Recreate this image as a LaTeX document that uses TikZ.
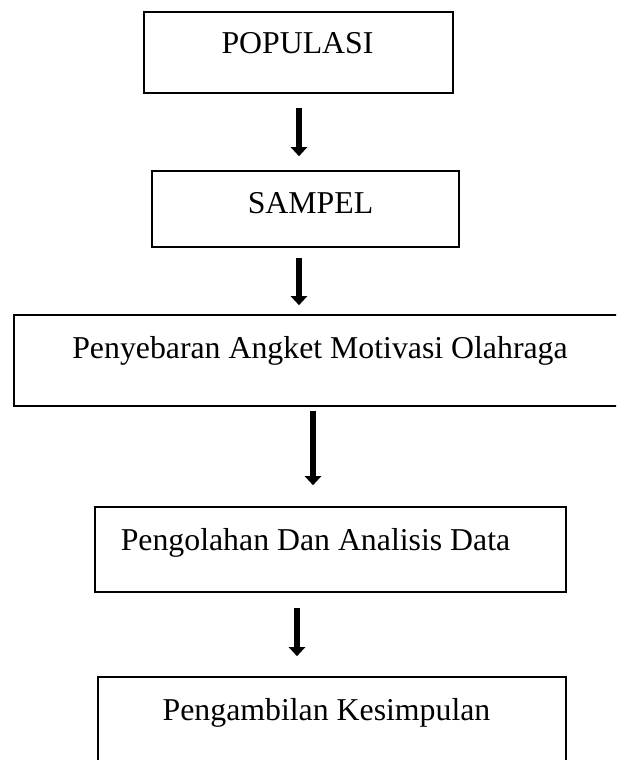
\documentclass[tikz,border=0pt]{standalone}
\usepackage{fontspec}
\setmainfont{Liberation Serif}
\usetikzlibrary{arrows.meta}
\begin{document}
\begin{tikzpicture}[x=1pt,y=-1pt,
  box/.style={draw=black, line width=1.6pt, inner sep=0pt},
  lbl/.style={anchor=base, inner sep=0pt, font=\fontsize{31.8}{38}\selectfont},
  arr/.style={line width=5.5pt, -{Triangle[width=16pt,length=9pt]}}]
\useasboundingbox (0,0) rectangle (616,760);
\clip (0,0) rectangle (616,760);
% boxes
\node[box, minimum width=309pt, minimum height=81pt] (b1) at (298.5,52.5) {};
\node[box, minimum width=307pt, minimum height=76pt] (b2) at (305.5,209) {};
\node[box, minimum width=608pt, minimum height=91pt] (b3) at (318,360.5) {};
\node[box, minimum width=471pt, minimum height=85pt] (b4) at (330.5,549.5) {};
\node[box, minimum width=468pt, minimum height=113pt] (b5) at (332,733.5) {};
% texts
\node[lbl] (t1) at (297.5,53) {POPULASI};
\node[lbl] (t2) at (310.5,213) {SAMPEL};
\node[lbl] (t3) at (320,358) {Penyebaran Angket Motivasi Olahraga};
\node[lbl] (t4) at (315.5,550) {Pengolahan Dan Analisis Data};
\node[lbl] (t5) at (326.5,720) {Pengambilan Kesimpulan};
% arrow columns
\coordinate (c1) at (299,0);
\coordinate (c2) at (299,0);
\coordinate (c3) at (313,0);
\coordinate (c4) at (297,0);
\draw[arr, shorten <=14pt, shorten >=14pt] (b1.south -| c1) -- (b2.north -| c1);
\draw[arr, shorten <=10pt, shorten >=9pt] (b2.south -| c2) -- (b3.north -| c2);
\draw[arr, shorten <=4pt, shorten >=21pt] (b3.south -| c3) -- (b4.north -| c3);
\draw[arr, shorten <=15pt, shorten >=20pt] (b4.south -| c4) -- (b5.north -| c4);
\end{tikzpicture}
\end{document}
